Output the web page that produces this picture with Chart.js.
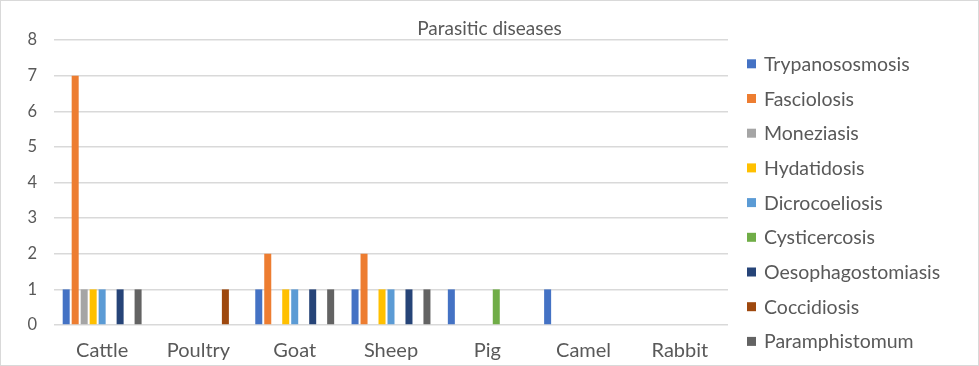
<!DOCTYPE html>
<html>
<head>
<meta charset="utf-8">
<script src="https://cdn.jsdelivr.net/npm/chart.js@4/dist/chart.umd.min.js"></script>
<style>
    body { margin: 0; background: #fff; }
    #wrap { width: 979px; height: 366px; box-sizing: border-box; border: 1px solid #d9d9d9; }
    canvas { display: block; }
</style>
</head>
<body>
<div id="wrap"><canvas id="chart" width="977" height="364"></canvas></div>
<script>
// Parasitic diseases by species
const species = ['Cattle', 'Poultry', 'Goat', 'Sheep', 'Pig', 'Camel', 'Rabbit'];
const diseases = ['Trypanososmosis', 'Fasciolosis', 'Moneziasis', 'Hydatidosis', 'Dicrocoeliosis',
    'Cysticercosis', 'Oesophagostomiasis', 'Coccidiosis', 'Paramphistomum'];
const colors = ['#4472C4', '#ED7D31', '#A5A5A5', '#FFC000', '#5B9BD5', '#70AD47', '#264478', '#9E480E', '#636363'];

// one array per disease, values in species order
const trypanososmosis   = [1, 0, 1, 1, 1, 1, 0];
const fasciolosis       = [7, 0, 2, 2, 0, 0, 0];
const moneziasis        = [1, 0, 0, 0, 0, 0, 0];
const hydatidosis       = [1, 0, 1, 1, 0, 0, 0];
const dicrocoeliosis    = [1, 0, 1, 1, 0, 0, 0];
const cysticercosis     = [0, 0, 0, 0, 1, 0, 0];
const oesophagostomiasis = [1, 0, 1, 1, 0, 0, 0];
const coccidiosis       = [0, 1, 0, 0, 0, 0, 0];
const paramphistomum    = [1, 0, 1, 1, 0, 0, 0];
const yTicks = [0, 1, 2, 3, 4, 5, 6, 7, 8];
const title = 'Parasitic diseases';

const series = [trypanososmosis, fasciolosis, moneziasis, hydatidosis, dicrocoeliosis,
    cysticercosis, oesophagostomiasis, coccidiosis, paramphistomum];

const FONT = 'Lato, "Open Sans", sans-serif';
const TEXT = '#595959';

// title centred on the whole canvas + legend on the right, Excel style
const decorations = {
    id: 'decorations',
    afterDraw(chart) {
        const ctx = chart.ctx;
        ctx.save();
        ctx.fillStyle = TEXT;
        ctx.textBaseline = 'alphabetic';
        ctx.textAlign = 'center';
        ctx.font = '19px ' + FONT;
        ctx.fillText(title, chart.width / 2, 34);

        ctx.textAlign = 'left';
        ctx.font = '19.5px ' + FONT;
        chart.data.datasets.forEach((ds, i) => {
            const y = 62.8 + i * 34.7;
            ctx.fillStyle = ds.backgroundColor;
            ctx.fillRect(746, y - 4.5, 9, 9);
            ctx.fillStyle = TEXT;
            ctx.fillText(ds.label, 763, y + 7);
        });
        ctx.restore();
    }
};

new Chart(document.getElementById('chart'), {
    type: 'bar',
    data: {
        labels: species,
        datasets: diseases.map((name, i) => ({
            label: name,
            data: series[i],
            backgroundColor: colors[i],
            categoryPercentage: 0.84,
            barPercentage: 0.78
        }))
    },
    options: {
        responsive: false,
        animation: false,
        layout: { padding: { left: 0, right: 250, top: 39, bottom: 1 } },
        plugins: {
            legend: { display: false },
            tooltip: { enabled: false },
            title: { display: false }
        },
        scales: {
            x: {
                afterFit: (scale) => { scale.height = 39; },
                grid: { display: false },
                border: { display: false },
                ticks: { color: TEXT, font: { family: FONT, size: 20 }, padding: 6 }
            },
            y: {
                min: 0,
                max: 8,
                afterBuildTicks: (scale) => { scale.ticks = yTicks.map(v => ({ value: v })); },
                afterFit: (scale) => { scale.width = 53; },
                grid: { color: '#d9d9d9', lineWidth: 1.5, drawTicks: false },
                border: { display: false },
                ticks: { color: TEXT, font: { family: FONT, size: 16.5 }, padding: 17 }
            }
        }
    },
    plugins: [decorations]
});
</script>
</body>
</html>
